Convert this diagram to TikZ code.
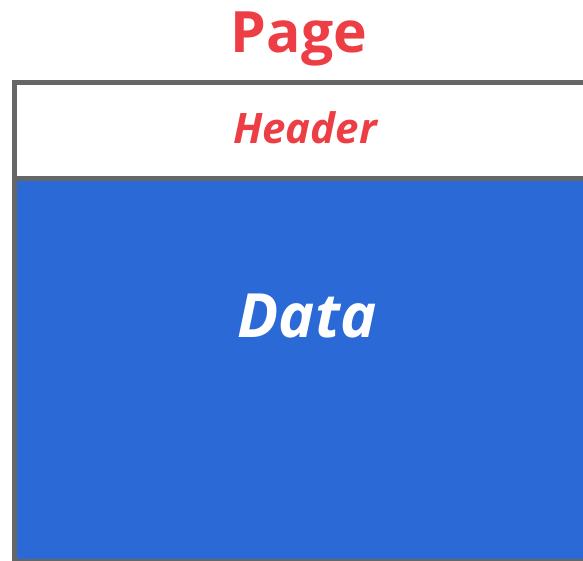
\documentclass[tikz,border=0pt]{standalone}
\usepackage{fontspec}
\setmainfont{Open Sans}
\usepackage{tikz}
\definecolor{pagered}{RGB}{236, 62, 68}
\definecolor{datablue}{RGB}{43, 106, 214}
\definecolor{framegray}{RGB}{102, 102, 102}

\begin{document}
\begin{tikzpicture}[x=1pt, y=-1pt]
    \useasboundingbox (0,0) rectangle (583,561);
    \tikzset{
      frame/.style={draw=framegray, line width=5pt},
      label/.style={anchor=base, inner sep=0pt}
    }
    % Areas of the page
    \fill[datablue] (14.5,178.5) rectangle (600,565);
    \draw[frame] (600,82.5) -- (14.5,82.5) -- (14.5,561) -- (600,561);
    \draw[frame] (14.5,178.5) -- (600,178.5);
    % Texts
    \node[label, text=pagered, font=\fontsize{57}{60}\selectfont\bfseries] (title) at (299,53) {Page};
    \node[label, text=pagered, font=\fontsize{42}{46}\selectfont\bfseries\itshape] (header) at (305,144) {Header};
    \node[label, text=white, font=\fontsize{61}{64}\selectfont\bfseries\itshape] (data) at (307,337) {Data};
  \end{tikzpicture}
\end{document}
